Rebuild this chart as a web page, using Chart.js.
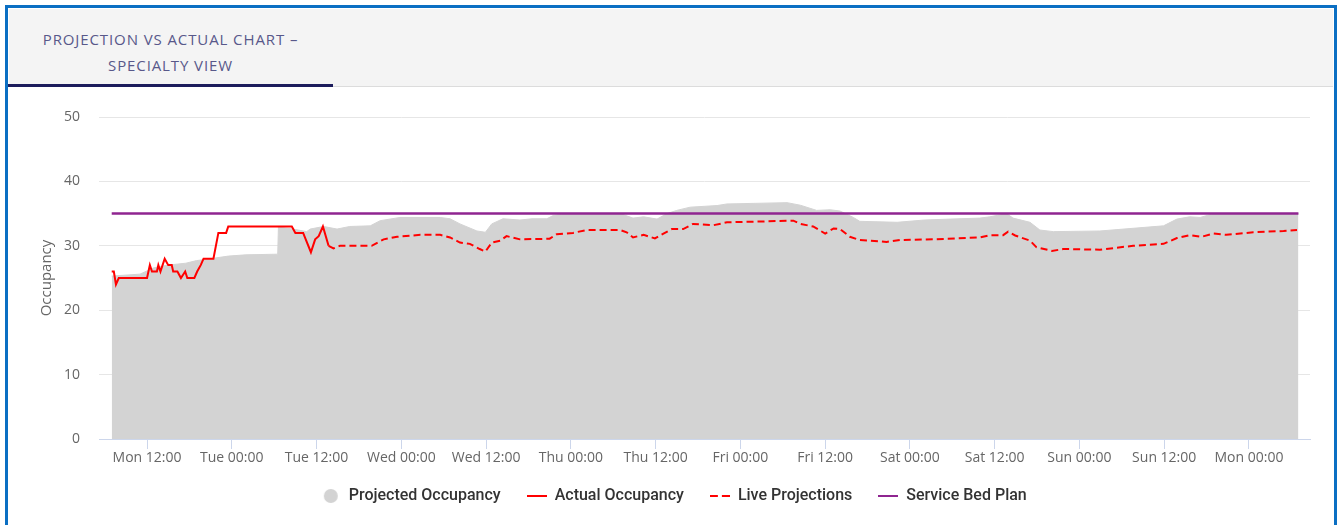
<!DOCTYPE html>
<html>
<head>
<meta charset="utf-8">
<script src="https://cdn.jsdelivr.net/npm/chart.js@4.4.1/dist/chart.umd.min.js"></script>
<style>
  html, body { margin: 0; padding: 0; background: #fff; width: 1337px; height: 525px; overflow: hidden; }
  .card { position: absolute; left: 5px; top: 5px; width: 1326px; height: 580px; border: 3px solid #0b6fc3; background: #fff; }
  .header { position: absolute; left: 1px; top: 1px; right: 1px; height: 77px; background: #f4f4f4; border-bottom: 1px solid #dcdcdc; }
  .tab { position: absolute; left: -1px; top: 0; width: 325px; height: 78px; border-bottom: 3px solid #1c1c5c;
         text-align: center; font-family: "Open Sans", sans-serif; font-size: 15px; letter-spacing: 0.9px; line-height: 26px; color: #58588a;
         padding-top: 17px; box-sizing: border-box; }
  .chart-box { position: absolute; left: 0; top: 79px; width: 1326px; height: 438px; }
</style>
</head>
<body>
<div class="card">
  <div class="header">
    <div class="tab">PROJECTION VS ACTUAL CHART –<br>SPECIALTY VIEW</div>
  </div>
  <div class="chart-box"><canvas id="chart" width="1326" height="438"></canvas></div>
</div>
<script>
// Hours counted from Monday 00:00
const tickHours = [12, 24, 36, 48, 60, 72, 84, 96, 108, 120, 132, 144, 156, 168];
const tickLabels = ["Mon 12:00", "Tue 00:00", "Tue 12:00", "Wed 00:00", "Wed 12:00", "Thu 00:00", "Thu 12:00",
                    "Fri 00:00", "Fri 12:00", "Sat 00:00", "Sat 12:00", "Sun 00:00", "Sun 12:00", "Mon 00:00"];

const legendNames = ["Projected Occupancy", "Actual Occupancy", "Live Projections", "Service Bed Plan"];

// Projected Occupancy (grey area)
const projHours = [7, 11, 13, 15, 17.5, 19, 21, 23.5, 26, 30.5, 30.6, 32.7, 34.6, 35.1, 37, 38.9, 40.7, 43.6, 45, 47.8,
                   53.5, 54.9, 56.3, 58.7, 59.9, 60.8, 62.4, 64.8, 66.5, 68.6, 69.5, 71.4, 79, 80.8, 82.3, 84.2, 85.6, 87, 88.9, 92.7,
                   94.1, 102.6, 104.5, 106.8, 108.7, 110.1, 112, 112.9, 118.2, 122, 125.7, 129.9, 131.3, 133.7, 134.6, 137, 138.4, 140.3, 146.9, 155.9,
                   157.8, 159.6, 161.1, 163, 175];
const projValues = [25.3, 25.6, 26.6, 27.0, 27.3, 27.7, 28.0, 28.4, 28.6, 28.7, 32.9, 32.6, 32.2, 32.6, 33.0, 32.6, 33.0, 33.1, 33.9, 34.4,
                    34.4, 34.2, 33.4, 32.3, 32.1, 33.4, 34.2, 34.0, 34.2, 34.2, 34.7, 35.0, 35.0, 34.3, 34.5, 34.15, 35.0, 35.5, 36.0, 36.25,
                    36.5, 36.7, 36.3, 35.5, 35.6, 35.4, 34.4, 33.8, 33.65, 34.0, 34.15, 34.3, 34.5, 35.0, 34.3, 33.65, 32.45, 32.2, 32.3, 33.1,
                    34.15, 34.5, 34.4, 35.0, 35.0];

// Actual Occupancy
const actualHours = [7, 7.3, 7.6, 8, 12, 12.4, 12.7, 13.4, 13.6, 13.9, 14.5, 15, 15.5, 15.7, 16.3, 16.8, 17.4, 17.7, 18.7, 19.1,
                     19.6, 20, 21.4, 22.1, 23.2, 23.5, 32.5, 33, 34.1, 35.2, 35.8, 36.3, 36.9, 37.7];
const actualValues = [26, 26, 24, 25, 25, 27, 26, 26, 27, 26, 28, 27, 27, 26, 26, 25, 26, 25, 25, 26,
                      27, 28, 28, 32, 32, 33, 33, 32, 32, 29, 31, 31.5, 33, 30];

// Live Projections
const liveHours = [37.7, 38.4, 39.3, 43.8, 45.5, 47.4, 50.7, 53.5, 54.9, 56.3, 57.7, 59.1, 59.9, 60.8, 62, 62.9, 64.8, 69, 70, 72.3,
                   74.2, 79, 79.9, 80.8, 82.3, 83.9, 86.3, 87.9, 89.3, 92.2, 94.1, 103.5, 104.5, 106.3, 108, 109.2, 110.1, 111.5, 112.9, 116.7,
                   118.6, 123.3, 129.9, 131.3, 133.2, 133.9, 134.9, 137, 137.9, 140.1, 141.7, 146.9, 151.6, 155.9, 157.8, 159.6, 161.3, 163, 164.8, 168.6,
                   172.9, 174.8];
const liveValues = [30, 29.6, 30, 30, 31, 31.4, 31.7, 31.7, 31.3, 30.5, 30.3, 29.5, 29.1, 30.5, 30.8, 31.5, 31, 31.1, 31.8, 32,
                    32.45, 32.45, 32.1, 31.3, 31.7, 31.15, 32.6, 32.6, 33.4, 33.2, 33.65, 33.9, 33.4, 33, 31.9, 32.7, 32.6, 31.4, 30.9, 30.6,
                    30.9, 31, 31.3, 31.65, 31.65, 32.2, 31.6, 30.8, 29.8, 29.2, 29.5, 29.4, 30, 30.3, 31.2, 31.65, 31.4, 31.9, 31.7, 32.1,
                    32.3, 32.45];

// Service Bed Plan
const planHours = [7, 175];
const planValues = [35, 35];

function toPoints(xs, ys) {
    return xs.map((x, i) => ({ x: x, y: ys[i] }));
}

// Legend symbols
function symbol(draw) {
    const c = document.createElement("canvas");
    c.width = 20;
    c.height = 14;
    draw(c.getContext("2d"));
    return c;
}
const legendSymbols = [
    symbol((ctx) => { ctx.fillStyle = "#d3d3d3"; ctx.beginPath(); ctx.arc(10, 7, 7, 0, Math.PI * 2); ctx.fill(); }),
    symbol((ctx) => { ctx.fillStyle = "#ff0000"; ctx.fillRect(0, 6, 20, 2); }),
    symbol((ctx) => { ctx.fillStyle = "#ff0000"; ctx.fillRect(0, 6, 8, 2); ctx.fillRect(12, 6, 8, 2); }),
    symbol((ctx) => { ctx.fillStyle = "#8f2590"; ctx.fillRect(0, 6, 20, 2); }),
];

new Chart(document.getElementById("chart"), {
    type: "line",
    data: {
        datasets: [
            {
                label: legendNames[1],
                data: toPoints(actualHours, actualValues),
                borderColor: "#ff0000",
                borderWidth: 2,
                order: 1,
            },
            {
                label: legendNames[2],
                data: toPoints(liveHours, liveValues),
                borderColor: "#ff0000",
                borderWidth: 2,
                borderDash: [7, 4],
                order: 2,
            },
            {
                label: legendNames[3],
                data: toPoints(planHours, planValues),
                borderColor: "#8f2590",
                borderWidth: 2.5,
                order: 3,
            },
            {
                label: legendNames[0],
                data: toPoints(projHours, projValues),
                borderColor: "#d3d3d3",
                backgroundColor: "#d3d3d3",
                borderWidth: 1,
                fill: "origin",
                order: 4,
            },
        ],
    },
    options: {
        responsive: false,
        animation: false,
        events: [],
        elements: {
            point: { radius: 0 },
            line: { tension: 0 },
        },
        layout: { padding: { left: 29.5, right: 24, top: 30, bottom: 11 } },
        scales: {
            x: {
                type: "linear",
                min: 5.2,
                max: 176.64,
                afterBuildTicks: (scale) => { scale.ticks = tickHours.map((v) => ({ value: v })); },
                afterFit: (scale) => { scale.height = 23; },
                grid: { drawOnChartArea: false, drawTicks: true, tickLength: 10, color: "#ccd6eb" },
                border: { color: "#ccd6eb" },
                ticks: {
                    autoSkip: false,
                    maxRotation: 0,
                    padding: 1,
                    color: "#666",
                    font: { family: "Open Sans", size: 14 },
                    callback: (value) => tickLabels[tickHours.indexOf(value)],
                },
            },
            y: {
                min: 0,
                max: 50,
                afterFit: (scale) => { scale.width = 61.5; },
                grid: { color: "#e6e6e6", drawTicks: false },
                border: { display: false },
                ticks: {
                    stepSize: 10,
                    padding: 19,
                    color: "#666",
                    font: { family: "Open Sans", size: 14 },
                },
                title: {
                    display: true,
                    text: "Occupancy",
                    color: "#666",
                    padding: 0,
                    font: { family: "Open Sans", size: 15 },
                },
            },
        },
        plugins: {
            tooltip: { enabled: false },
            legend: {
                position: "bottom",
                labels: {
                    usePointStyle: true,
                    pointStyleWidth: 20,
                    boxHeight: 14,
                    padding: 26,
                    color: "#333",
                    font: { family: "Roboto", size: 16, weight: "500" },
                    generateLabels: () => legendNames.map((name, i) => ({
                        text: name,
                        pointStyle: legendSymbols[i],
                        fillStyle: "transparent",
                        strokeStyle: "transparent",
                        fontColor: "#333",
                        lineWidth: 1,
                        hidden: false,
                    })),
                },
            },
        },
    },
});
</script>
</body>
</html>
